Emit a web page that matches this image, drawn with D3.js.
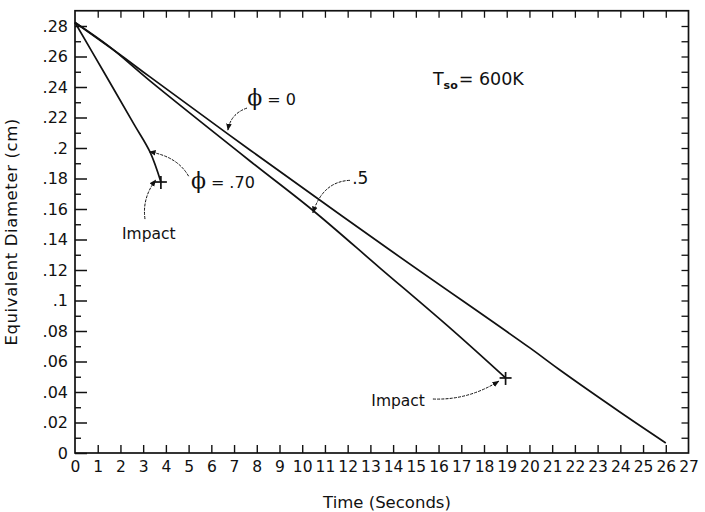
<!DOCTYPE html>
<html>
<head>
<meta charset="utf-8">
<script src="https://cdn.jsdelivr.net/npm/d3@7"></script>
<style>
  html, body { margin: 0; padding: 0; background: #fff; }
  svg { display: block; }
  text { font-family: "DejaVu Sans", "Liberation Sans", sans-serif; fill: #111; }
</style>
</head>
<body>
<svg id="chart" width="705" height="512"></svg>
<script>
// Droplet equivalent diameter (cm) against time (s), T_so = 600 K
const phi0Time  = [0, 2.0, 3.3, 7.7, 13.86, 20.02, 21.34, 23.98, 26.0];
const phi0Diam  = [0.2823, 0.261, 0.2466, 0.1987, 0.1331, 0.0689, 0.0544, 0.0269, 0.0066];

const phi05Time = [0, 1.5, 3.3, 7.7, 10.5, 13.4, 16.6, 18.95];
const phi05Diam = [0.2823, 0.2666, 0.2440, 0.1915, 0.1587, 0.1216, 0.0807, 0.0492];

const phi07Time = [0, 1.3, 2.6, 3.3, 3.78];
const phi07Diam = [0.2823, 0.2490, 0.2155, 0.1974, 0.1777];

// impact points (end of the phi = .5 and phi = .70 histories)
const impactTime = [3.78, 18.95];
const impactDiam = [0.1777, 0.0492];

const xTicks = d3.range(0, 28);
const yTicks = [0, 0.02, 0.04, 0.06, 0.08, 0.10, 0.12, 0.14, 0.16, 0.18, 0.20, 0.22, 0.24, 0.26, 0.28];
const yTickLabels = ["0", ".02", ".04", ".06", ".08", ".1", ".12", ".14", ".16", ".18", ".2", ".22", ".24", ".26", ".28"];
const yMinor = d3.range(1, 29, 2).map(d => d / 100);
const yAll = d3.range(1, 29).map(d => d / 100);

const svg = d3.select("#chart");
const margin = { left: 75, right: 16.5, top: 10.75, bottom: 59 };
const W = 705, H = 512;
const x = d3.scaleLinear().domain([0, 27]).range([margin.left, W - margin.right]);
const y = d3.scaleLinear().domain([0, 0.29]).range([H - margin.bottom, margin.top]);

// frame
svg.append("rect")
  .attr("x", x(0)).attr("y", y(0.29))
  .attr("width", x(27) - x(0)).attr("height", y(0) - y(0.29))
  .attr("fill", "none").attr("stroke", "#111").attr("stroke-width", 1.7);

// left axis: long ticks at labelled values, short ticks between
const gL = svg.append("g").attr("transform", `translate(${x(0)},0)`)
  .call(d3.axisRight(y).tickValues(yTicks).tickSize(12).tickFormat(""));
gL.select(".domain").remove();
gL.selectAll("line").attr("stroke", "#111").attr("stroke-width", 1.5);
const gLm = svg.append("g").attr("transform", `translate(${x(0)},0)`)
  .call(d3.axisRight(y).tickValues(yMinor).tickSize(6).tickFormat(""));
gLm.select(".domain").remove();
gLm.selectAll("line").attr("stroke", "#111").attr("stroke-width", 1.4);

// left tick labels
const gLt = svg.append("g").attr("transform", `translate(${x(0)},0)`)
  .call(d3.axisLeft(y).tickValues(yTicks).tickSize(0).tickPadding(7)
    .tickFormat((d, i) => yTickLabels[i]));
gLt.select(".domain").remove();
gLt.selectAll("text").attr("font-size", 16).attr("fill", "#111")
  .attr("font-family", "DejaVu Sans, sans-serif");

// right axis ticks (inward)
const gR = svg.append("g").attr("transform", `translate(${x(27)},0)`)
  .call(d3.axisLeft(y).tickValues(yAll).tickSize(7).tickFormat(""));
gR.select(".domain").remove();
gR.selectAll("line").attr("stroke", "#111").attr("stroke-width", 1.3);

// bottom axis ticks (inward) and labels
const gB = svg.append("g").attr("transform", `translate(0,${y(0)})`)
  .call(d3.axisTop(x).tickValues(xTicks.slice(1, 27)).tickSize(8).tickFormat(""));
gB.select(".domain").remove();
gB.selectAll("line").attr("stroke", "#111").attr("stroke-width", 1.4);
const gBt = svg.append("g").attr("transform", `translate(0,${y(0)})`)
  .call(d3.axisBottom(x).tickValues(xTicks).tickSize(0).tickPadding(8).tickFormat(d3.format("d")));
gBt.select(".domain").remove();
gBt.selectAll("text").attr("font-size", 15.5).attr("fill", "#111")
  .attr("font-family", "DejaVu Sans Condensed, DejaVu Sans, sans-serif");

// top axis ticks (inward)
const gT = svg.append("g").attr("transform", `translate(0,${y(0.29)})`)
  .call(d3.axisBottom(x).tickValues(xTicks.slice(1, 27)).tickSize(7).tickFormat(""));
gT.select(".domain").remove();
gT.selectAll("line").attr("stroke", "#111").attr("stroke-width", 1.3);

// axis titles
svg.append("text")
  .attr("x", 387).attr("y", 508)
  .attr("text-anchor", "middle").attr("font-size", 16.5)
  .text("Time (Seconds)");
svg.append("text")
  .attr("transform", `translate(17,${(y(0) + y(0.29)) / 2}) rotate(-90)`)
  .attr("text-anchor", "middle").attr("font-size", 16.5)
  .attr("letter-spacing", 0.6)
  .text("Equivalent Diameter (cm)");

// curves
const line = d3.line().x(d => x(d[0])).y(d => y(d[1])).curve(d3.curveCatmullRom.alpha(0.5));
const series = [
  d3.zip(phi0Time, phi0Diam),
  d3.zip(phi05Time, phi05Diam),
  d3.zip(phi07Time, phi07Diam)
];
svg.append("g").selectAll("path").data(series).join("path")
  .attr("d", line)
  .attr("fill", "none").attr("stroke", "#111").attr("stroke-width", 1.7);

// impact crosses
const cs = 6;
const crosses = svg.append("g").selectAll("g").data(d3.zip(impactTime, impactDiam)).join("g")
  .attr("transform", d => `translate(${x(d[0])},${y(d[1])})`);
crosses.append("line").attr("x1", -cs).attr("x2", cs).attr("y1", 0).attr("y2", 0)
  .attr("stroke", "#111").attr("stroke-width", 1.7);
crosses.append("line").attr("x1", 0).attr("x2", 0).attr("y1", -cs).attr("y2", cs + 1)
  .attr("stroke", "#111").attr("stroke-width", 1.7);

// arrowhead
svg.append("defs").append("marker")
  .attr("id", "arrow").attr("viewBox", "0 0 10 10")
  .attr("refX", 9).attr("refY", 5)
  .attr("markerWidth", 7).attr("markerHeight", 7)
  .attr("orient", "auto-start-reverse").attr("markerUnits", "userSpaceOnUse")
  .append("path").attr("d", "M0,1 L10,5 L0,9 Z").attr("fill", "#111");

// annotation leaders: [start, control, tip] in data units
const leaders = [
  [[7.57, 0.2262], [6.85, 0.2225], [6.73, 0.2118]],
  [[12.1, 0.1788], [10.9, 0.1780], [10.47, 0.1575]],
  [[5.0, 0.1815], [4.5, 0.1945], [3.27, 0.1975]],
  [[3.08, 0.1534], [2.95, 0.1672], [3.55, 0.1790]],
  [[15.75, 0.0354], [17.3, 0.0345], [18.65, 0.0471]]
];
svg.append("g").selectAll("path").data(leaders).join("path")
  .attr("d", d => `M${x(d[0][0])},${y(d[0][1])} Q${x(d[1][0])},${y(d[1][1])} ${x(d[2][0])},${y(d[2][1])}`)
  .attr("fill", "none").attr("stroke", "#111").attr("stroke-width", 1)
  .attr("stroke-dasharray", "3,1.2")
  .attr("marker-end", "url(#arrow)");

// annotation text
const ann = svg.append("g");
function phiLabel(t, v, rest) {
  const tx = ann.append("text").attr("x", x(t)).attr("y", y(v)).attr("font-size", 16);
  tx.append("tspan").attr("font-size", 22).attr("font-family", "DejaVu Serif, serif").text("ϕ");
  tx.append("tspan").attr("dx", 5).text(rest);
}
phiLabel(7.58, 0.2285, "= 0");
phiLabel(5.1, 0.1735, "= .70");
ann.append("text").attr("x", x(12.2)).attr("y", y(0.1765)).attr("font-size", 17).text(".5");
ann.append("text").attr("x", x(3.25)).attr("y", y(0.1405)).attr("text-anchor", "middle")
  .attr("font-size", 15.5).text("Impact");
ann.append("text").attr("x", x(15.4)).attr("y", y(0.031)).attr("text-anchor", "end")
  .attr("font-size", 15.5).text("Impact");
const ts = ann.append("text").attr("x", x(15.75)).attr("y", y(0.241)).attr("font-size", 17.5);
ts.append("tspan").text("T");
ts.append("tspan").attr("font-size", 11).attr("font-weight", "bold").attr("dy", 4).text("so");
ts.append("tspan").attr("dy", -4).attr("dx", 1).text("= 600K");
</script>
</body>
</html>
